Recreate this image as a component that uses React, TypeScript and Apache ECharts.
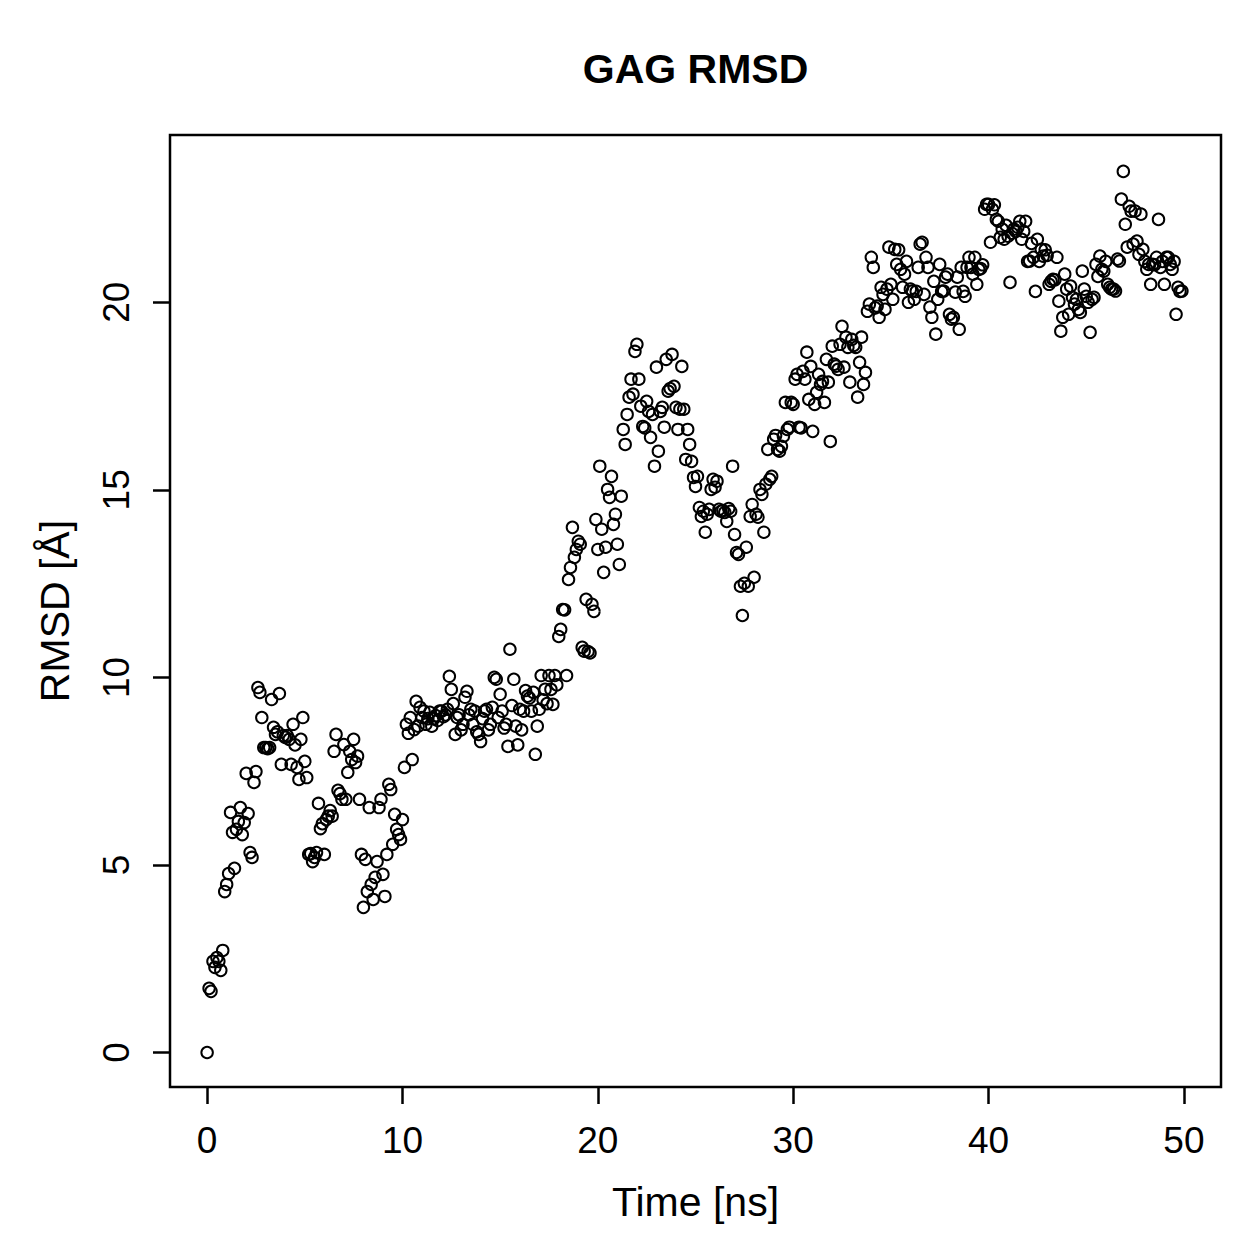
import React, { useEffect, useRef } from 'react';
import * as echarts from 'echarts';

// Simulation frames are stored every 0.1 ns
const frameStepNs = 0.1;

// RMSD [Å] values, one per frame, grouped by 10 ns blocks
const rmsd0to10 = [
  0, 1.71, 1.63, 2.43, 2.27, 2.53, 2.43, 2.19, 2.72, 4.29,
  4.48, 4.77, 6.4, 5.87, 4.91, 5.95, 6.16, 6.53, 5.81, 6.13,
  7.44, 6.37, 5.33, 5.2, 7.2, 7.49, 9.73, 9.6, 8.93, 8.13,
  8.13, 8.1, 8.13, 9.41, 8.67, 8.48, 8.55, 9.57, 7.68, 8.45,
  8.4, 8.45, 8.35, 7.68, 8.75, 8.2, 7.6, 7.28, 8.35, 8.93,
  7.76, 7.33, 5.28, 5.3, 5.09, 5.2, 5.33, 6.64, 5.97, 6.1,
  5.28, 6.21, 6.3, 6.45, 6.3, 8.03, 8.48, 6.99, 6.9, 6.75,
  8.21, 6.75, 7.47, 8.03, 7.81, 8.35, 7.73, 7.9, 6.75, 5.28,
  3.87, 5.15, 4.29, 6.53, 4.48, 4.08, 4.67, 5.09, 6.53, 6.75,
  4.75, 4.16, 5.28, 7.15, 7.01, 5.55, 6.35, 5.95, 5.81, 5.68,
];
const rmsd10to20 = [
  6.21, 7.6, 8.75, 8.51, 8.93, 7.81, 8.61, 9.36, 8.7, 9.2,
  8.93, 9.1, 8.75, 8.9, 9.07, 8.7, 8.9, 8.98, 8.85, 9.1,
  9.1, 8.95, 9.0, 9.15, 10.03, 9.68, 9.3, 8.48, 8.93, 9.0,
  8.6, 8.75, 9.47, 9.63, 9.0, 9.15, 8.75, 9.1, 8.55, 8.48,
  8.29, 8.9, 9.1, 9.15, 8.6, 8.75, 9.2, 10.0, 9.95, 8.93,
  9.55, 9.1, 8.65, 8.75, 8.16, 10.75, 9.25, 9.95, 8.7, 8.2,
  9.15, 8.6, 9.1, 9.65, 9.5, 9.45, 9.1, 9.6, 7.95, 8.7,
  9.15, 10.05, 9.4, 9.68, 9.3, 10.05, 9.68, 9.28, 10.05, 9.8,
  11.09, 11.28, 11.81, 11.8, 10.05, 12.61, 12.93, 14.0, 13.2, 13.41,
  13.63, 13.55, 10.8, 10.7, 12.08, 10.69, 10.65, 11.95, 11.76, 14.21,
];
const rmsd20to30 = [
  13.41, 15.63, 13.95, 12.8, 13.47, 15.01, 14.8, 15.36, 14.08, 14.35,
  13.55, 13.01, 14.83, 16.61, 16.21, 17.01, 17.47, 17.95, 17.55, 18.69,
  18.88, 17.95, 17.23, 16.69, 16.65, 17.36, 17.09, 16.4, 17.01, 15.63,
  18.27, 16.03, 17.09, 17.2, 16.67, 18.48, 17.63, 17.7, 18.61, 17.76,
  17.2, 16.61, 17.15, 18.29, 17.15, 15.81, 16.61, 16.21, 15.76, 15.33,
  15.09, 15.36, 14.53, 14.29, 14.43, 13.87, 14.35, 14.48, 15.01, 15.28,
  15.07, 15.23, 14.48, 14.43, 14.45, 14.4, 14.16, 14.5, 14.43, 15.63,
  13.81, 13.33, 13.28, 12.43, 11.65, 12.51, 13.47, 12.43, 14.29, 14.61,
  12.67, 14.35, 14.27, 15.01, 14.88, 13.87, 15.15, 16.08, 15.28, 15.36,
  16.35, 16.45, 16.08, 16.03, 16.16, 16.43, 17.33, 16.61, 16.67, 17.33,
];
const rmsd30to40 = [
  17.28, 17.95, 18.08, 16.67, 16.65, 18.16, 17.95, 18.67, 17.41, 18.29,
  16.56, 17.28, 17.6, 18.08, 17.81, 17.89, 17.33, 18.48, 17.87, 16.29,
  18.83, 18.35, 18.3, 18.21, 18.88, 19.36, 18.27, 19.07, 18.8, 17.87,
  19.01, 18.85, 18.8, 17.47, 18.4, 19.07, 17.81, 18.13, 19.76, 19.95,
  21.2, 20.93, 19.85, 19.9, 19.6, 20.4, 20.21, 19.81, 20.35, 21.47,
  20.48, 20.08, 21.41, 21.01, 21.4, 20.88, 20.4, 20.75, 21.09, 20.0,
  20.35, 20.3, 20.08, 20.29, 20.93, 21.55, 21.6, 20.21, 21.2, 20.93,
  19.87, 19.6, 20.56, 19.15, 20.08, 21.01, 20.29, 20.3, 20.67, 20.75,
  19.68, 19.55, 19.6, 20.27, 20.67, 19.28, 20.93, 20.29, 20.16, 20.93,
  21.2, 20.93, 20.75, 21.2, 20.48, 20.88, 20.9, 21.0, 22.48, 22.61,
];
const rmsd40to50 = [
  22.61, 21.6, 22.48, 22.6, 22.21, 22.16, 21.73, 21.95, 21.68, 22.05,
  21.76, 20.53, 21.84, 21.95, 21.89, 22.0, 22.16, 21.68, 21.89, 22.16,
  21.09, 21.1, 21.57, 21.2, 20.29, 21.68, 21.09, 21.41, 21.23, 21.4,
  21.25, 20.48, 20.56, 20.61, 20.6, 21.2, 20.03, 19.23, 19.6, 20.75,
  20.35, 19.68, 20.43, 20.13, 19.95, 20.08, 19.81, 19.73, 20.83, 20.35,
  20.16, 20.0, 19.2, 20.08, 20.13, 21.01, 20.69, 21.23, 20.88, 20.83,
  21.09, 20.48, 20.4, 20.35, 20.35, 20.3, 21.15, 21.1, 22.75, 23.49,
  22.08, 21.47, 22.56, 22.43, 21.55, 22.43, 21.63, 21.28, 22.35, 21.41,
  21.09, 20.88, 21.01, 20.48, 21.01, 21.0, 21.2, 22.21, 20.93, 21.09,
  20.48, 21.2, 21.2, 21.01, 20.88, 21.09, 19.68, 20.4, 20.29, 20.3,
];

const xTicks = [0, 10, 20, 30, 40, 50];
const yTicks = [0, 5, 10, 15, 20];

const titleText = 'GAG RMSD';
const xTitle = 'Time [ns]';
const yTitle = 'RMSD [Å]';

const FONT = '"Liberation Sans", Arial, Helvetica, sans-serif';

export default function App() {
  const ref = useRef<HTMLDivElement>(null);

  useEffect(() => {
    if (!ref.current) return;
    const chart = echarts.init(ref.current, null, { renderer: 'svg' });
    const rmsd = [...rmsd0to10, ...rmsd10to20, ...rmsd20to30, ...rmsd30to40, ...rmsd40to50];
    const data = rmsd.map((v, i) => [Math.round(i * frameStepNs * 10) / 10, v]);

    chart.setOption({
      animation: false,
      backgroundColor: '#ffffff',
      grid: {
        left: 170,
        right: 38,
        top: 135,
        bottom: 172,
        show: true,
        borderColor: '#000',
        borderWidth: 2.5,
        backgroundColor: 'transparent',
        containLabel: false,
      },
      xAxis: {
        type: 'value',
        min: -1.9,
        max: 51.9,
        axisLine: { show: false, onZero: false },
        splitLine: { show: false },
        axisTick: {
          show: true,
          inside: false,
          length: 17,
          customValues: xTicks,
          lineStyle: { color: '#000', width: 2.5 },
        },
        axisLabel: {
          customValues: xTicks,
          margin: 35,
          fontSize: 37,
          color: '#000',
          fontFamily: FONT,
        },
      },
      yAxis: {
        type: 'value',
        min: -0.92,
        max: 24.46,
        axisLine: { show: false, onZero: false },
        splitLine: { show: false },
        axisTick: {
          show: true,
          inside: false,
          length: 17,
          customValues: yTicks,
          lineStyle: { color: '#000', width: 2.5 },
        },
        axisLabel: {
          customValues: yTicks,
          rotate: 90,
          margin: 35,
          fontSize: 37,
          color: '#000',
          fontFamily: FONT,
        },
      },
      series: [
        {
          type: 'scatter',
          data,
          symbol: 'circle',
          symbolSize: 11.5,
          silent: true,
          itemStyle: {
            color: 'rgba(0,0,0,0)',
            borderColor: '#000',
            borderWidth: 2,
            opacity: 1,
          },
        },
      ],
      graphic: [
        {
          type: 'text',
          x: 695.5,
          y: 69,
          style: {
            text: titleText,
            font: `bold 41px ${FONT}`,
            fill: '#000',
            align: 'center',
            verticalAlign: 'middle',
            textAlign: 'center',
            textVerticalAlign: 'middle',
          },
        },
        {
          type: 'text',
          x: 695.5,
          y: 1202,
          style: {
            text: xTitle,
            font: `41px ${FONT}`,
            fill: '#000',
            align: 'center',
            verticalAlign: 'middle',
            textAlign: 'center',
            textVerticalAlign: 'middle',
          },
        },
        {
          type: 'text',
          x: 55,
          y: 611,
          rotation: Math.PI / 2,
          style: {
            text: yTitle,
            font: `41px ${FONT}`,
            fill: '#000',
            align: 'center',
            verticalAlign: 'middle',
            textAlign: 'center',
            textVerticalAlign: 'middle',
          },
        },
      ],
    });

    return () => chart.dispose();
  }, []);

  return (
    <div
      ref={ref}
      style={{ position: 'fixed', left: 0, top: 0, width: 1259, height: 1259 }}
    />
  );
}
